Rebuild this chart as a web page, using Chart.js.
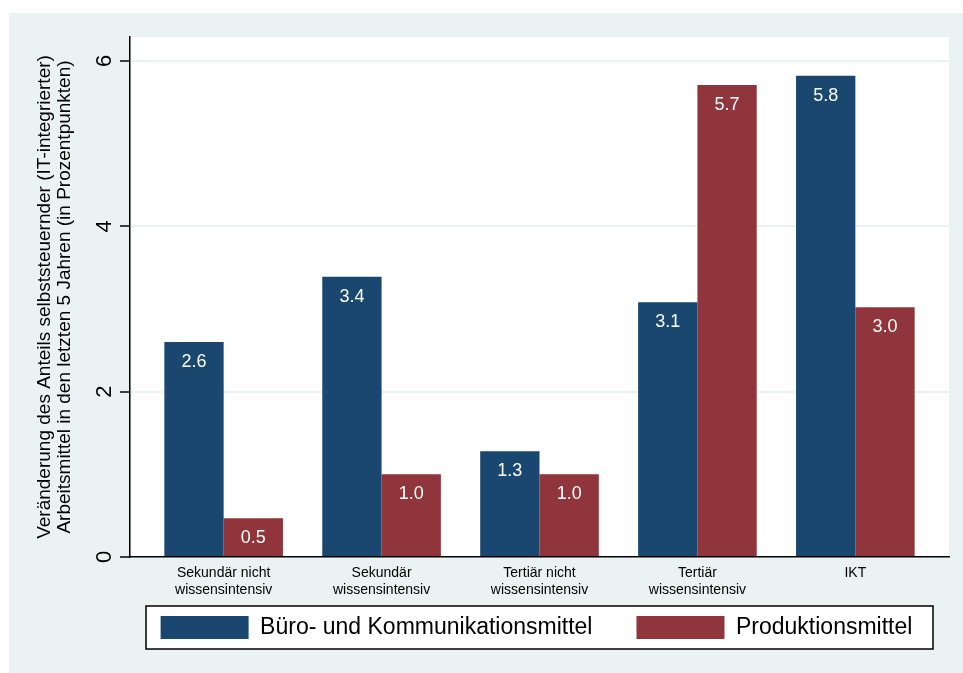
<!DOCTYPE html>
<html>
<head>
<meta charset="utf-8">
<script src="https://cdn.jsdelivr.net/npm/chart.js@4.4.1/dist/chart.umd.min.js"></script>
<style>
  html, body { margin: 0; padding: 0; background: #fff; }
  #wrap { width: 963px; height: 673px; }
</style>
</head>
<body>
<div id="wrap"><canvas id="chart" width="963" height="673"></canvas></div>
<script>
// Daten
const categories = [
    ['Sekundär nicht', 'wissensintensiv'],
    ['Sekundär', 'wissensintensiv'],
    ['Tertiär nicht', 'wissensintensiv'],
    ['Tertiär', 'wissensintensiv'],
    ['IKT']
];
const seriesLabels = ['Büro- und Kommunikationsmittel', 'Produktionsmittel'];
const bueroValues = [2.60, 3.39, 1.28, 3.08, 5.82];
const produktionValues = [0.47, 1.00, 1.00, 5.71, 3.02];
const yTicks = [0, 2, 4, 6];
const yTitle = [
    'Veränderung des Anteils selbststeuernder (IT-integrierter)',
    'Arbeitsmittel in den letzten 5 Jahren (in Prozentpunkten)'
];

const FONT = '"Liberation Sans", Arial, sans-serif';
const BG = '#eaf2f3';
const NAVY = '#1a476f';
const MAROON = '#90353b';

// Hintergrund, Plotfläche und Legendenrahmen
const backdrop = {
    id: 'backdrop',
    beforeDraw(chart) {
        const { ctx, chartArea: a, legend } = chart;
        const cx = (a.left + a.right) / 2;
        // Legende unter der Plotfläche zentrieren und nach oben ziehen
        const dx = (cx - 3) - (legend.left + legend.right) / 2;
        legend.left += dx;
        legend.right += dx;
        const dy = (a.bottom + 15) - legend.top;
        legend.top += dy;
        legend.bottom += dy;

        ctx.save();
        ctx.fillStyle = BG;
        ctx.fillRect(9, 13, chart.width - 9, chart.height - 13);
        ctx.fillStyle = '#fff';
        ctx.fillRect(a.left, a.top, a.right - a.left, a.bottom - a.top);

        const top = legend.top + 34;
        const h = legend.bottom - top;
        ctx.fillRect(cx - 393.5, top, 787, h);
        ctx.strokeStyle = '#000';
        ctx.lineWidth = 1.5;
        ctx.strokeRect(cx - 393.5, top, 787, h);
        ctx.restore();
    }
};

// Werte in den Balken
const valueLabels = {
    id: 'valueLabels',
    afterDatasetsDraw(chart) {
        const ctx = chart.ctx;
        ctx.save();
        ctx.fillStyle = '#fff';
        ctx.font = '18px ' + FONT;
        ctx.textAlign = 'center';
        ctx.textBaseline = 'middle';
        chart.data.datasets.forEach((ds, i) => {
            chart.getDatasetMeta(i).data.forEach((bar, j) => {
                ctx.fillText(ds.data[j].y.toFixed(1), bar.x, bar.y + 20);
            });
        });
        ctx.restore();
    }
};

// gedrehte Beschriftung der y-Achse
const yTickLabels = {
    id: 'yTickLabels',
    afterDraw(chart) {
        const { ctx, scales: { y } } = chart;
        ctx.save();
        ctx.fillStyle = '#000';
        ctx.font = '22px ' + FONT;
        ctx.textAlign = 'center';
        ctx.textBaseline = 'alphabetic';
        y.ticks.forEach(t => {
            ctx.save();
            ctx.translate(y.right - 19, y.getPixelForValue(t.value));
            ctx.rotate(-Math.PI / 2);
            ctx.fillText(String(t.value), 0, 0);
            ctx.restore();
        });
        ctx.restore();
    }
};

const toPoints = values => values.map((v, i) => ({ x: i, y: v }));

new Chart(document.getElementById('chart').getContext('2d'), {
    type: 'bar',
    data: {
        datasets: [
            { label: seriesLabels[0], data: toPoints(bueroValues), backgroundColor: NAVY, borderWidth: 0 },
            { label: seriesLabels[1], data: toPoints(produktionValues), backgroundColor: MAROON, borderWidth: 0 }
        ]
    },
    options: {
        responsive: false,
        animation: false,
        events: [],
        categoryPercentage: 0.751,
        barPercentage: 1,
        layout: { padding: { left: 9, right: 14, top: 37, bottom: 0 } },
        scales: {
            x: {
                type: 'linear',
                offset: false,
                min: -0.593,
                max: 4.593,
                afterBuildTicks: scale => { scale.ticks = categories.map((c, i) => ({ value: i })); },
                afterFit: scale => { scale.height = 39; },
                grid: { display: false, drawTicks: false },
                border: { display: true, color: '#000', width: 1.5 },
                ticks: {
                    autoSkip: false,
                    maxRotation: 0,
                    padding: 8,
                    color: '#000',
                    font: { family: FONT, size: 14, lineHeight: 1.2 },
                    callback: value => categories[value]
                }
            },
            y: {
                min: 0,
                max: 6.29,
                afterBuildTicks: scale => { scale.ticks = yTicks.map(v => ({ value: v })); },
                afterFit: scale => { scale.width = 121; },
                grid: {
                    color: c => (c.tick && c.tick.value === 0) ? 'rgba(0,0,0,0)' : BG,
                    lineWidth: 2,
                    drawTicks: true,
                    tickLength: 10,
                    tickColor: '#000',
                    tickWidth: 1.5
                },
                border: { display: true, color: '#000', width: 1.5 },
                ticks: { display: false },
                title: {
                    display: true,
                    text: yTitle,
                    color: '#000',
                    padding: { top: 26, bottom: 0 },
                    font: { family: FONT, size: 19, lineHeight: 1.05 }
                }
            }
        },
        plugins: {
            legend: {
                position: 'bottom',
                labels: {
                    color: '#000',
                    boxWidth: 88,
                    boxHeight: 23,
                    padding: 44,
                    font: { family: FONT, size: 23 }
                }
            },
            tooltip: { enabled: false }
        }
    },
    plugins: [backdrop, valueLabels, yTickLabels]
});
</script>
</body>
</html>
